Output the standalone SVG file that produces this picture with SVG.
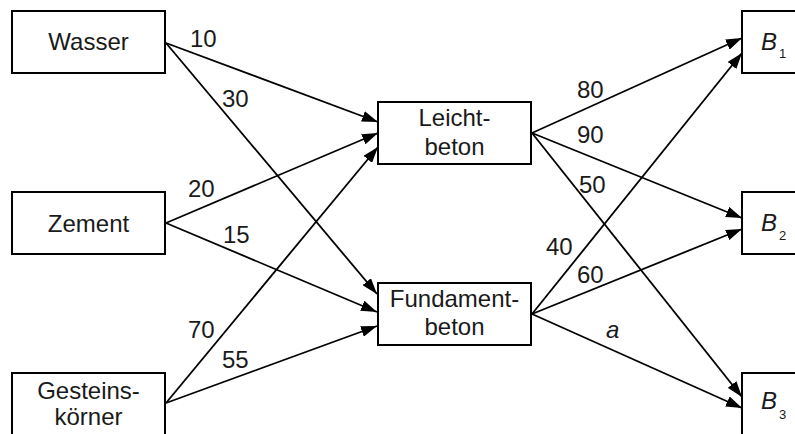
<svg xmlns="http://www.w3.org/2000/svg" width="795" height="434" viewBox="0 0 795 434">
<style>
.box{fill:#fff;stroke:#000;stroke-width:2}
.t{font-family:"Liberation Sans",Arial,sans-serif;font-size:24px;fill:#1a1a1a}
.c{text-anchor:middle}
.i{font-style:italic}
.s{font-size:13px}
.e{stroke:#000;stroke-width:1.8;fill:none;marker-end:url(#ah)}
</style>
<defs>
<marker id="ah" markerUnits="userSpaceOnUse" markerWidth="17" markerHeight="11" refX="16" refY="5.5" orient="auto">
<path d="M0,0 L16,5.5 L0,11 z" fill="#000"/>
</marker>
</defs>
<rect width="795" height="434" fill="#fff"/>
<g id="connectors">
<line class="e" x1="166" y1="43" x2="378" y2="122"/>
<line class="e" x1="166" y1="43" x2="377" y2="294"/>
<line class="e" x1="166" y1="223" x2="378" y2="133"/>
<line class="e" x1="166" y1="223" x2="377" y2="312"/>
<line class="e" x1="166" y1="403" x2="378" y2="147"/>
<line class="e" x1="166" y1="403" x2="377" y2="326"/>
<line class="e" x1="532" y1="133" x2="742" y2="38"/>
<line class="e" x1="532" y1="133" x2="742" y2="218"/>
<line class="e" x1="532" y1="133" x2="742" y2="397"/>
<line class="e" x1="532" y1="314" x2="742" y2="53"/>
<line class="e" x1="532" y1="314" x2="742" y2="229"/>
<line class="e" x1="532" y1="314" x2="742" y2="408"/>
<text class="t" x="190" y="47">10</text>
<text class="t" x="222" y="107">30</text>
<text class="t" x="188" y="197">20</text>
<text class="t" x="223" y="243">15</text>
<text class="t" x="188" y="338">70</text>
<text class="t" x="222" y="368">55</text>
<text class="t" x="577" y="98">80</text>
<text class="t" x="577" y="143">90</text>
<text class="t" x="579" y="193">50</text>
<text class="t" x="546" y="255">40</text>
<text class="t" x="577" y="283">60</text>
<text class="t i" x="606" y="338">a</text>
</g>
<g id="wasser">
<rect class="box" x="12" y="11" width="153" height="62"/>
<text class="t c" x="88.5" y="50">Wasser</text>
</g>
<g id="zement">
<rect class="box" x="12" y="192" width="153" height="62"/>
<text class="t c" x="88.5" y="232">Zement</text>
</g>
<g id="gesteinskoerner">
<rect class="box" x="12" y="373" width="153" height="80"/>
<text class="t c" x="88.5" y="399">Gesteins-</text>
<text class="t c" x="88.5" y="425">körner</text>
</g>
<g id="leichtbeton">
<rect class="box" x="378" y="102" width="153" height="62"/>
<text class="t c" x="454.5" y="126">Leicht-</text>
<text class="t c" x="454.5" y="155">beton</text>
</g>
<g id="fundamentbeton">
<rect class="box" x="378" y="283" width="153" height="62"/>
<text class="t c" x="454.5" y="307">Fundament-</text>
<text class="t c" x="454.5" y="335">beton</text>
</g>
<g id="b1">
<rect class="box" x="742" y="11" width="80" height="62"/>
<text class="t" x="761" y="50"><tspan class="i">B</tspan><tspan class="s" dx="2" dy="8">1</tspan></text>
</g>
<g id="b2">
<rect class="box" x="742" y="192" width="80" height="62"/>
<text class="t" x="761" y="231"><tspan class="i">B</tspan><tspan class="s" dx="2" dy="9">2</tspan></text>
</g>
<g id="b3">
<rect class="box" x="742" y="373" width="80" height="62"/>
<text class="t" x="761" y="409"><tspan class="i">B</tspan><tspan class="s" dx="2" dy="10">3</tspan></text>
</g>
</svg>
